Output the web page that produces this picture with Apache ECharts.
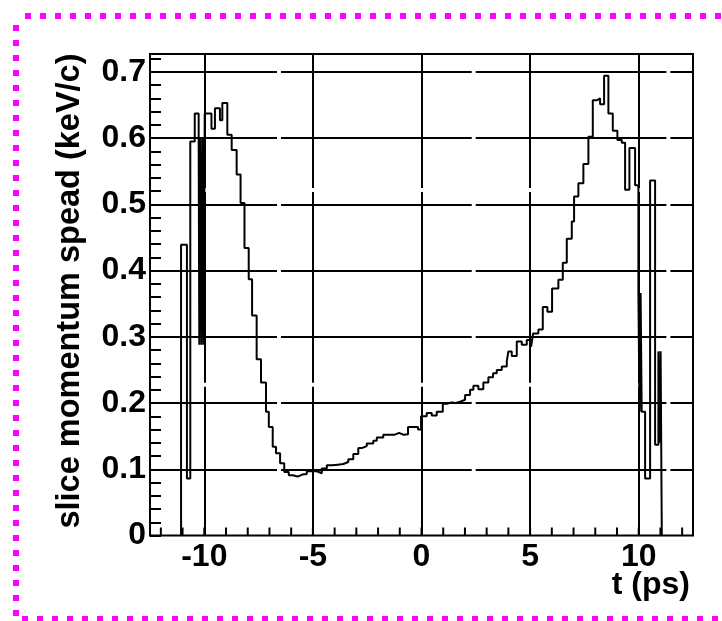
<!DOCTYPE html>
<html>
<head>
<meta charset="utf-8">
<script src="https://cdn.jsdelivr.net/npm/echarts@6/dist/echarts.min.js"></script>
<style>
  html, body { margin: 0; padding: 0; background: #fff; }
  #chart { width: 722px; height: 621px; }
</style>
</head>
<body>
<div id="chart"></div>
<script>
// left edge of every bin (t, ps); the last entry closes the final bin
const binEdges = [
  -11.07, -10.80, -10.645, -10.44, -10.26, -10.23, -10.18, -10.13, -10.08, -10.03,
  -9.98, -9.67, -9.51, -9.28, -9.17, -8.94, -8.74, -8.51, -8.33, -8.15,
  -7.955, -7.80, -7.59, -7.39, -7.16, -7.03, -6.85, -6.70, -6.51, -6.32,
  -6.11, -5.93, -5.70, -5.49, -5.28, -5.05, -4.82, -4.59, -4.36, -4.12,
  -3.86, -3.60, -3.37, -3.14, -2.91, -2.75, -2.52, -2.22, -2.06, -1.76,
  -1.50, -1.26, -1.03, -0.82, -0.62, -0.40, -0.16, -0.02, 0.24, 0.47,
  0.70, 0.98, 1.18, 1.38, 1.58, 1.775, 2.006, 2.236, 2.388, 2.618,
  2.848, 3.079, 3.295, 3.465, 3.696, 3.926, 4.00, 4.156, 4.386, 4.617,
  4.847, 5.045, 5.137, 5.381, 5.584, 5.796, 6.012, 6.302, 6.505, 6.689,
  6.919, 7.025, 7.223, 7.453, 7.684, 7.886, 8.070, 8.222, 8.407, 8.605,
  8.807, 9.019, 9.222, 9.374, 9.572, 9.834, 9.986, 10.037, 10.088, 10.138,
  10.295, 10.525, 10.755, 10.907, 10.958, 11.009, 11.064
];
// slice momentum spread (keV/c) of each bin
const binValues = [
  0.439, 0.086, 0.595, 0.637, 0.600, 0.288, 0.600, 0.288, 0.600, 0.288,
  0.637, 0.614, 0.645, 0.627, 0.653, 0.605, 0.582, 0.545, 0.502, 0.434,
  0.387, 0.332, 0.266, 0.231, 0.187, 0.164, 0.134, 0.124, 0.109, 0.096,
  0.091, 0.089, 0.092, 0.093, 0.097, 0.097, 0.094, 0.101, 0.106, 0.107,
  0.108, 0.111, 0.115, 0.123, 0.132, 0.135, 0.139, 0.143, 0.148, 0.152,
  0.152, 0.155, 0.152, 0.153, 0.164, 0.164, 0.160, 0.180, 0.185, 0.181,
  0.187, 0.199, 0.201, 0.200, 0.202, 0.205, 0.212, 0.220, 0.226, 0.221,
  0.231, 0.239, 0.245, 0.250, 0.255, 0.263, 0.278, 0.271, 0.293, 0.288,
  0.295, 0.285, 0.305, 0.311, 0.345, 0.338, 0.373, 0.386, 0.412, 0.448,
  0.474, 0.512, 0.532, 0.561, 0.602, 0.657, 0.660, 0.651, 0.694, 0.637,
  0.611, 0.597, 0.593, 0.522, 0.585, 0.529, 0.366, 0.187, 0.366, 0.187,
  0.086, 0.536, 0.137, 0.278, 0.140, 0.278
];

const xLabelValues = [-10, -5, 0, 5, 10];
const xTickValues = [-12, -11, -10, -9, -8, -7, -6, -5, -4, -3, -2, -1, 0,
  1, 2, 3, 4, 5, 6, 7, 8, 9, 10, 11, 12];
const yLabelValues = [0, 0.1, 0.2, 0.3, 0.4, 0.5, 0.6, 0.7];
const yTickValues = [0, 0.02, 0.04, 0.06, 0.08, 0.1, 0.12, 0.14, 0.16, 0.18,
  0.2, 0.22, 0.24, 0.26, 0.28, 0.3, 0.32, 0.34, 0.36, 0.38, 0.4, 0.42, 0.44,
  0.46, 0.48, 0.5, 0.52, 0.54, 0.56, 0.58, 0.6, 0.62, 0.64, 0.66, 0.68, 0.7, 0.72];
const xGridValues = [-10, -5, 0, 5, 10];
const yGridValues = [0.1, 0.2, 0.3, 0.4, 0.5, 0.6, 0.7];

const X_MIN = -12.5, X_MAX = 12.5, Y_MIN = 0, Y_MAX = 0.727;

// histogram outline: up from zero at the first edge, down to zero at the last
const histData = [[binEdges[0], 0]];
binValues.forEach((v, i) => histData.push([binEdges[i], v]));
histData.push([binEdges[binEdges.length - 1], 0]);

const FONT = '"Liberation Sans", Arial, sans-serif';

// ROOT style grid: long dashes with small breaks
const vGrid = { color: '#000', width: 2, type: [134, 4, 190.7, 4, 400] };
const hGrid = { color: '#000', width: 2, type: [127, 4, 190.7, 4, 190.7, 4, 200] };
const gridLines = xGridValues.map(v => [
  { coord: [v, Y_MAX], lineStyle: vGrid }, { coord: [v, Y_MIN] }
]).concat(yGridValues.map(v => [
  { coord: [X_MIN, v], lineStyle: hGrid }, { coord: [X_MAX, v] }
]));

const chart = echarts.init(document.getElementById('chart'));

chart.setOption({
  backgroundColor: '#fff',
  animation: false,
  grid: {
    left: 150, right: 29, top: 54, bottom: 85.5,
    show: true, borderColor: '#000', borderWidth: 2, backgroundColor: 'transparent'
  },
  xAxis: {
    type: 'value',
    min: X_MIN,
    max: X_MAX,
    axisLine: { show: false, onZero: false },
    splitLine: { show: false },
    axisTick: { show: false },
    axisLabel: {
      customValues: xLabelValues,
      margin: 6,
      color: '#000',
      fontFamily: FONT,
      fontWeight: 'bold',
      fontSize: 32
    }
  },
  yAxis: {
    type: 'value',
    min: Y_MIN,
    max: Y_MAX,
    axisLine: { show: false, onZero: false },
    splitLine: { show: false },
    axisTick: {
      show: true, inside: true, length: 11,
      customValues: yTickValues,
      lineStyle: { color: '#000', width: 2 }
    },
    axisLabel: {
      customValues: yLabelValues,
      margin: 4,
      color: '#000',
      fontFamily: FONT,
      fontWeight: 'bold',
      fontSize: 32
    }
  },
  graphic: [
    {
      type: 'rect',
      silent: true,
      shape: { x: 16, y: 16, width: 714, height: 603 },
      style: { fill: 'none', stroke: '#ff00ff', lineWidth: 6, lineDash: [6, 9], lineDashOffset: 6 }
    },
    {
      type: 'text',
      x: 70, y: 291,
      rotation: Math.PI / 2,
      style: {
        text: 'slice momentum spead (keV/c)',
        fill: '#000',
        fontFamily: FONT,
        fontWeight: 'bold',
        fontSize: 32.5,
        align: 'center',
        verticalAlign: 'middle'
      }
    },
    {
      type: 'text',
      x: 690, y: 585,
      style: {
        text: 't (ps)',
        fill: '#000',
        fontFamily: FONT,
        fontWeight: 'bold',
        fontSize: 32,
        align: 'right',
        verticalAlign: 'middle'
      }
    }
  ],
  series: [
    {
      type: 'line',
      step: 'end',
      data: histData,
      showSymbol: false,
      symbol: 'none',
      lineStyle: { color: '#000', width: 2 },
      markLine: {
        silent: true,
        symbol: ['none', 'none'],
        label: { show: false },
        animation: false,
        data: gridLines
      }
    },
    {
      // small ticks standing on the bottom axis at every integer t
      type: 'custom',
      silent: true,
      clip: false,
      z: 10,
      data: xTickValues.map(v => [v, Y_MIN]),
      encode: { x: 0, y: 1 },
      renderItem: (params, api) => {
        const p = api.coord([api.value(0), api.value(1)]);
        return {
          type: 'line',
          shape: { x1: p[0], y1: p[1], x2: p[0], y2: p[1] - 8 },
          style: { stroke: '#000', lineWidth: 2 }
        };
      }
    }
  ]
});
</script>
</body>
</html>
